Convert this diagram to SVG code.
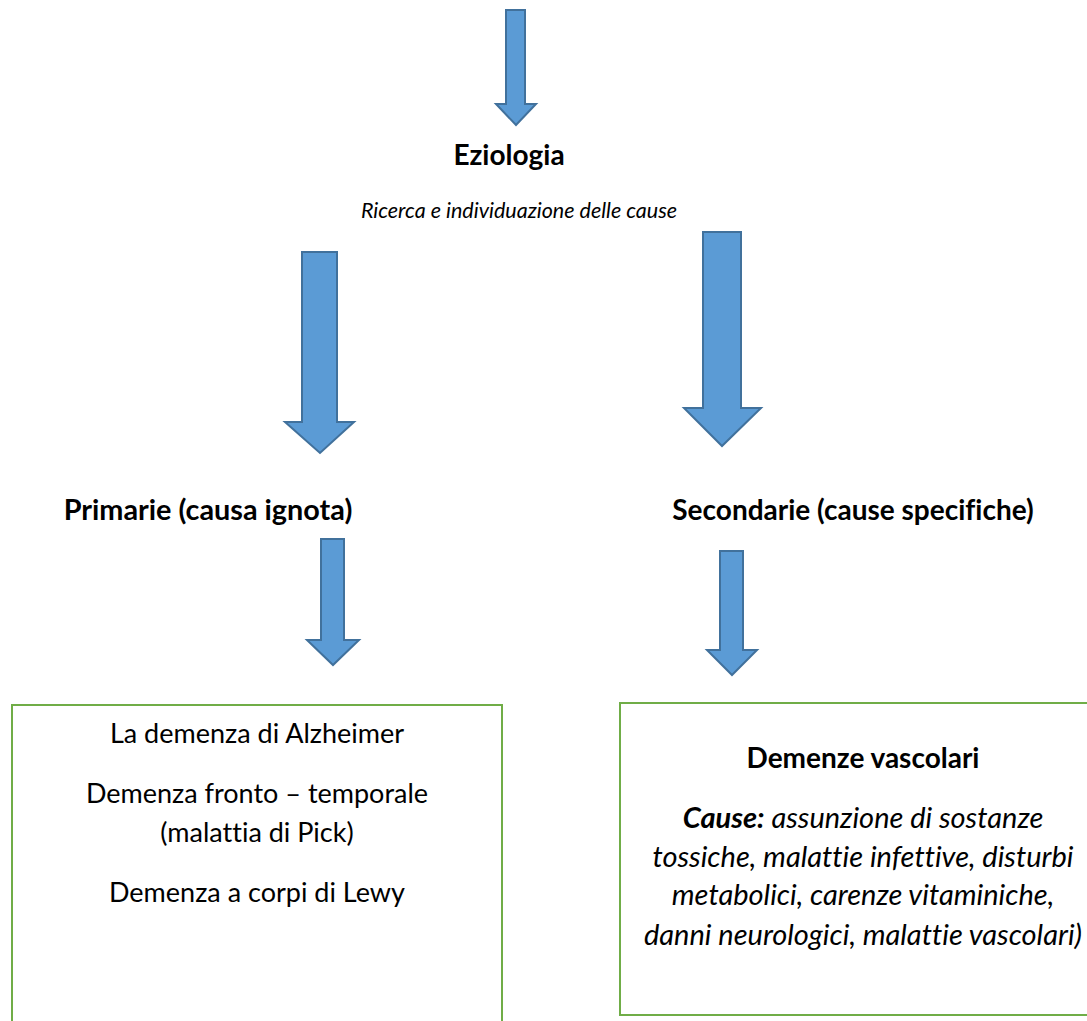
<svg xmlns="http://www.w3.org/2000/svg" width="1087" height="1021" viewBox="0 0 1087 1021">
  <style>
    .arrow { fill: #5B9BD5; stroke: #41719C; stroke-width: 2; stroke-linejoin: miter; }
    .box { fill: #FFFFFF; stroke: #70AD47; stroke-width: 2; }
    text { font-family: "Lato", "Open Sans", sans-serif; fill: #000000; text-anchor: middle; font-variant-ligatures: none; }
    .t { font-size: 27px; }
    .h { font-size: 28px; font-weight: bold; }
    .b { font-weight: bold; }
    .i { font-style: italic; font-size: 29px; }
    .s { font-size: 21.5px; font-style: italic; }
  </style>
  <rect width="1087" height="1021" fill="#FFFFFF"/>
  <g id="connectors">
    <path class="arrow" d="M506,10 H525 V104 H536 L516,125 L496,104 H506 Z"/>
    <path class="arrow" d="M302,252 H337 V422 H354 L320,453 L285,422 H302 Z"/>
    <path class="arrow" d="M703,232 H741 V408 H761 L722,446 L684,408 H703 Z"/>
    <path class="arrow" d="M321,539 H344 V640 H359 L333,665 L307,640 H321 Z"/>
    <path class="arrow" d="M720,551 H743 V650 H757 L732,675 L707,650 H720 Z"/>
  </g>
  <g id="eziologia">
    <text class="h" x="509" y="165">Eziologia</text>
    <text class="s" x="519" y="218">Ricerca e individuazione delle cause</text>
  </g>
  <g id="primarie">
    <text class="h" x="208" y="520" style="font-size:28.8px">Primarie (causa ignota)</text>
  </g>
  <g id="secondarie">
    <text class="h" x="853" y="520">Secondarie (cause specifiche)</text>
  </g>
  <g id="box-primarie">
    <rect class="box" x="12" y="705" width="490" height="330"/>
    <text class="t" x="257" y="743">La demenza di Alzheimer</text>
    <text class="t" x="257" y="803">Demenza fronto – temporale</text>
    <text class="t" x="257" y="842">(malattia di Pick)</text>
    <text class="t" x="257" y="902">Demenza a corpi di Lewy</text>
  </g>
  <g id="box-secondarie">
    <rect class="box" x="620" y="703" width="480" height="312"/>
    <text class="h" x="863" y="768">Demenze vascolari</text>
    <text class="i" x="863" y="828"><tspan class="b">Cause:</tspan> assunzione di sostanze</text>
    <text class="i" x="863" y="867">tossiche, malattie infettive, disturbi</text>
    <text class="i" x="863" y="905">metabolici, carenze vitaminiche,</text>
    <text class="i" x="863" y="945">danni neurologici, malattie vascolari)</text>
  </g>
</svg>
